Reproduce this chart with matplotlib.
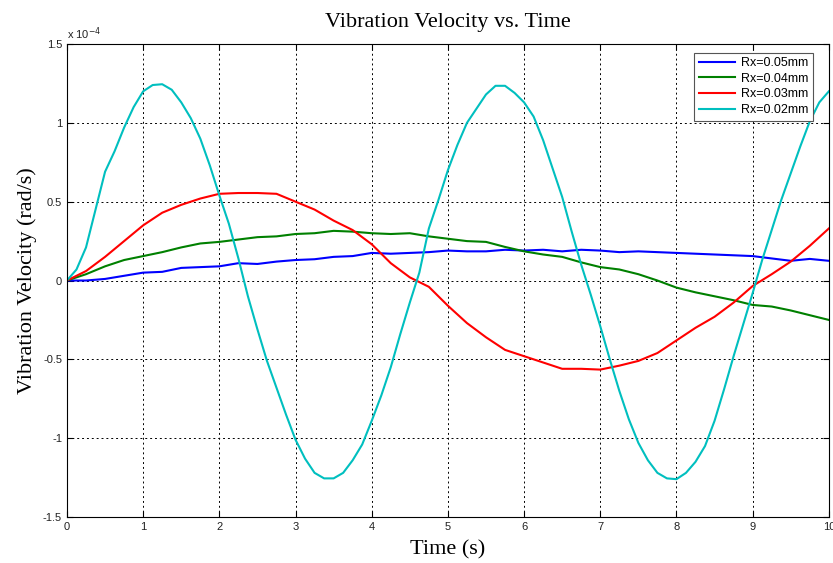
import matplotlib
matplotlib.use("Agg")
import matplotlib.pyplot as plt
import numpy as np

time_s = np.arange(0, 10.0001, 0.25)
time_fine = np.arange(0, 10.0001, 0.125)

# values in units of 1e-4 rad/s
rx005 = [0, 0.0, 0.01, 0.03, 0.05, 0.055, 0.08, 0.085, 0.09, 0.11, 0.105, 0.12, 0.13,
         0.135, 0.15, 0.155, 0.175, 0.17, 0.175, 0.18, 0.19, 0.185, 0.185, 0.195, 0.19,
         0.195, 0.185, 0.195, 0.19, 0.18, 0.185, 0.18, 0.175, 0.17, 0.165, 0.16, 0.155,
         0.14, 0.125, 0.137, 0.125]
rx004 = [0, 0.04, 0.09, 0.13, 0.155, 0.18, 0.21, 0.235, 0.245, 0.26, 0.275, 0.28, 0.295,
         0.30, 0.315, 0.31, 0.30, 0.295, 0.30, 0.28, 0.265, 0.25, 0.245, 0.213, 0.185,
         0.165, 0.15, 0.115, 0.085, 0.07, 0.04, 0.0, -0.045, -0.075, -0.10, -0.125,
         -0.155, -0.165, -0.19, -0.22, -0.25]
rx003 = [0, 0.06, 0.15, 0.25, 0.35, 0.43, 0.48, 0.52, 0.55, 0.555, 0.555, 0.55, 0.50,
         0.45, 0.38, 0.32, 0.23, 0.11, 0.02, -0.04, -0.16, -0.27, -0.36, -0.44, -0.48,
         -0.52, -0.56, -0.56, -0.565, -0.54, -0.51, -0.46, -0.38, -0.30, -0.23, -0.14,
         -0.035, 0.04, 0.12, 0.22, 0.33]
rx002 = [0, 0.07, 0.21, 0.45, 0.69, 0.82, 0.97, 1.10, 1.20, 1.24, 1.245, 1.21, 1.13,
         1.03, 0.90, 0.73, 0.54, 0.36, 0.14, -0.10, -0.31, -0.51, -0.68, -0.85, -1.01,
         -1.13, -1.22, -1.255, -1.255, -1.22, -1.14, -1.04, -0.89, -0.73, -0.55, -0.34,
         -0.14, 0.05, 0.33, 0.51, 0.70, 0.86, 1.00, 1.09, 1.18, 1.235, 1.235, 1.19, 1.13,
         1.04, 0.89, 0.71, 0.53, 0.31, 0.10, -0.09, -0.29, -0.50, -0.70, -0.88, -1.03,
         -1.14, -1.22, -1.255, -1.26, -1.22, -1.15, -1.05, -0.89, -0.69, -0.48, -0.28,
         -0.08, 0.13, 0.32, 0.51, 0.68, 0.85, 1.01, 1.13, 1.20]

series = [("Rx=0.05mm", time_s, rx005, "#0000ff"),
          ("Rx=0.04mm", time_s, rx004, "#008000"),
          ("Rx=0.03mm", time_s, rx003, "#ff0000"),
          ("Rx=0.02mm", time_fine, rx002, "#00bfbf")]

fig = plt.figure(figsize=(8.33, 5.63), dpi=100)
ax = fig.add_axes([0.0804, 0.0817, 0.9146, 0.8401])

for name, t, vals, col in series:
    ax.plot(t, vals, color=col, lw=1.5, label=name)

ax.set_xlim(0, 10)
ax.set_ylim(-1.5, 1.5)
ax.set_xticks(range(0, 11))
ax.set_yticks([-1.5, -1, -0.5, 0, 0.5, 1, 1.5])
ax.set_yticklabels(["-1.5", "-1", "-0.5", "0", "0.5", "1", "1.5"])
ax.tick_params(direction="in", top=True, right=True, labelsize=8, length=4,
               labelcolor="#222222")
for lab in ax.get_xticklabels() + ax.get_yticklabels():
    lab.set_family("Liberation Sans")
ax.grid(True, color="black", linestyle=(0, (2, 3)), linewidth=0.7)
for s in ax.spines.values():
    s.set_linewidth(0.8)

ax.text(0.0, 1.005, "x 10$^{-4}$", transform=ax.transAxes, fontsize=8,
        family="Liberation Sans", va="bottom", ha="left", color="#222222")

ax.set_title("Vibration Velocity vs. Time", family="Liberation Serif", fontsize=16, pad=12)
ax.set_xlabel("Time (s)", family="Liberation Serif", fontsize=16, labelpad=6)
ax.set_ylabel("Vibration Velocity (rad/s)", family="Liberation Serif", fontsize=16, labelpad=4)

leg = ax.legend(loc="upper right", bbox_to_anchor=(0.984, 0.99),
                prop={"family": "Liberation Sans", "size": 9},
                handlelength=2.9, fancybox=False, edgecolor="#555555",
                framealpha=1, borderpad=0.35, labelspacing=0.3, handletextpad=0.5,
                borderaxespad=0.3)
leg.get_frame().set_linewidth(0.8)

fig.savefig("out.png", dpi=100)
